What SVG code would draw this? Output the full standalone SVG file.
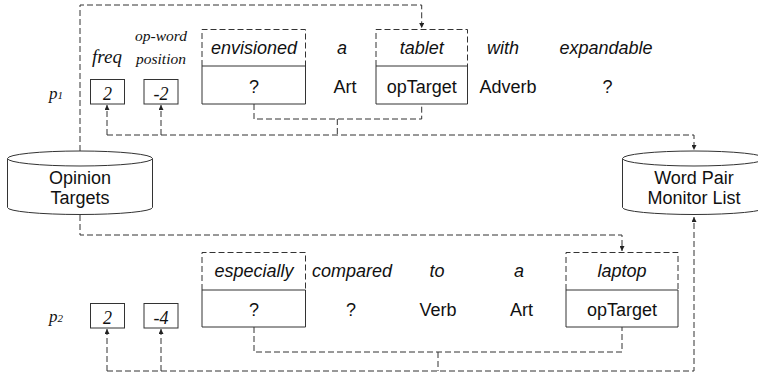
<svg xmlns="http://www.w3.org/2000/svg" width="758" height="378" viewBox="0 0 758 378">
<defs>
<marker id="ah" viewBox="0 0 8 8" refX="8" refY="4" markerWidth="5" markerHeight="5" orient="auto" markerUnits="userSpaceOnUse"><path d="M0,0 L8,4 L0,8 z" fill="#222"/></marker>
<style>
.conn{fill:none;stroke:#333;stroke-width:1;stroke-dasharray:6,3}
.dash{fill:none;stroke:#333;stroke-width:1;stroke-dasharray:6,3}
.solid{fill:none;stroke:#333;stroke-width:1}
.cyl{fill:#fff;stroke:#333;stroke-width:1}
.w{font-family:"Liberation Sans",Arial,sans-serif;font-style:italic;font-size:18px;text-anchor:middle;fill:#111}
.t{font-family:"Liberation Sans",Arial,sans-serif;font-size:18px;text-anchor:middle;fill:#111}
.s{font-family:"Liberation Serif","Times New Roman",serif;font-style:italic;text-anchor:middle;fill:#111}
</style>
</defs>
<rect width="758" height="378" fill="#fff"/>

<g id="connectors">
<path class="conn" d="M80,151 V5 H421.7 V28" marker-end="url(#ah)"/>
<path class="conn" d="M254,104 V119 H421.7 V104"/>
<path class="conn" d="M337.3,119 V135"/>
<path class="conn" d="M107,135 H694 V150" marker-end="url(#ah)"/>
<path class="conn" d="M107,135 V105" marker-end="url(#ah)"/>
<path class="conn" d="M161,135 V105" marker-end="url(#ah)"/>
<path class="conn" d="M80,215 V235 H622 V251" marker-end="url(#ah)"/>
<path class="conn" d="M254,327 V352 H622 V327"/>
<path class="conn" d="M438,352 V371"/>
<path class="conn" d="M107,371 H694 V217" marker-end="url(#ah)"/>
<path class="conn" d="M107,371 V329" marker-end="url(#ah)"/>
<path class="conn" d="M161,371 V329" marker-end="url(#ah)"/>
</g>

<g id="opinion-targets">
<path class="cyl" d="M7.5,158.5 V207.5 A72.5,7 0 0 0 152.5,207.5 V158.5"/>
<ellipse class="cyl" cx="80" cy="158.5" rx="72.5" ry="7.5"/>
<text class="t" x="80" y="184">Opinion</text>
<text class="t" x="80" y="204">Targets</text>
</g>

<g id="word-pair-monitor-list">
<path class="cyl" d="M622.5,158.5 V207.5 A71.5,7 0 0 0 765.5,207.5 V158.5"/>
<ellipse class="cyl" cx="694" cy="158.5" rx="71.5" ry="7.5"/>
<text class="t" x="694" y="184">Word Pair</text>
<text class="t" x="694" y="204">Monitor List</text>
</g>

<g id="p1-header">
<text class="s" x="107" y="63" font-size="19">freq</text>
<text class="s" x="161" y="41" font-size="15.5">op-word</text>
<text class="s" x="161" y="64" font-size="15.5">position</text>
<text class="s" x="56" y="99" font-size="17">p<tspan font-size="11">1</tspan></text>
</g>

<g id="p1-freq">
<rect class="solid" x="90.5" y="79.5" width="34" height="24.5"/>
<text class="s" x="107.5" y="100" font-size="18">2</text>
</g>
<g id="p1-pos">
<rect class="solid" x="144" y="79.5" width="34" height="24.5"/>
<text class="s" x="161" y="100" font-size="18">-2</text>
</g>

<g id="w-envisioned">
<path class="dash" d="M202,66 V29.5 H305.5 V66"/>
<path class="solid" d="M202,66 H305.5 V104 H202 Z"/>
<text class="w" x="254" y="54">envisioned</text>
<text class="t" x="254" y="93">?</text>
</g>
<g id="w-a1">
<text class="w" x="342" y="54">a</text>
<text class="t" x="345" y="93">Art</text>
</g>
<g id="w-tablet">
<path class="dash" d="M376,66 V29.5 H467.5 V66"/>
<path class="solid" d="M376,66 H467.5 V104 H376 Z"/>
<text class="w" x="421.7" y="54">tablet</text>
<text class="t" x="421.7" y="93">opTarget</text>
</g>
<g id="w-with">
<text class="w" x="503" y="54">with</text>
<text class="t" x="508" y="93">Adverb</text>
</g>
<g id="w-expandable">
<text class="w" x="606" y="54">expandable</text>
<text class="t" x="607.5" y="93">?</text>
</g>

<g id="p2-header">
<text class="s" x="56" y="322" font-size="17">p<tspan font-size="11">2</tspan></text>
</g>
<g id="p2-freq">
<rect class="solid" x="90.5" y="303.5" width="34" height="24.5"/>
<text class="s" x="107.5" y="324" font-size="18">2</text>
</g>
<g id="p2-pos">
<rect class="solid" x="144" y="303.5" width="34" height="24.5"/>
<text class="s" x="161" y="324" font-size="18">-4</text>
</g>

<g id="w-especially">
<path class="dash" d="M202,290 V252.5 H305.5 V290"/>
<path class="solid" d="M202,290 H305.5 V327 H202 Z"/>
<text class="w" x="254" y="277">especially</text>
<text class="t" x="254" y="316">?</text>
</g>
<g id="w-compared">
<text class="w" x="352" y="277">compared</text>
<text class="t" x="351" y="316">?</text>
</g>
<g id="w-to">
<text class="w" x="437" y="277">to</text>
<text class="t" x="438" y="316">Verb</text>
</g>
<g id="w-a2">
<text class="w" x="519" y="277">a</text>
<text class="t" x="521.5" y="316">Art</text>
</g>
<g id="w-laptop">
<path class="dash" d="M566,290 V252.5 H678 V290"/>
<path class="solid" d="M566,290 H678 V327 H566 Z"/>
<text class="w" x="622" y="277">laptop</text>
<text class="t" x="622" y="316">opTarget</text>
</g>
</svg>
